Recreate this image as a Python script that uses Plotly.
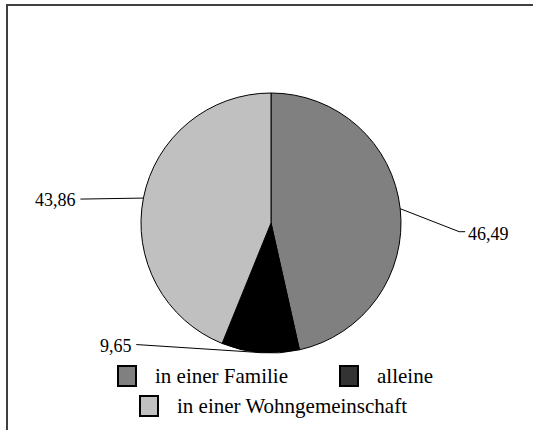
import math
import plotly.graph_objects as go

# Wohnsituation (Anteile in %)
categories = ["in einer Familie", "alleine", "in einer Wohngemeinschaft"]
values = [46.49, 9.65, 43.86]
value_labels = ["46,49", "9,65", "43,86"]
colors = ["#808080", "#000000", "#c0c0c0"]

W, H = 533, 430
FONT = "'Liberation Serif', 'DejaVu Serif', serif"

# pie geometry in pixels
CX, CY, R = 271, 223, 130
# leader line end offsets from the slice edge (px)
label_offsets = [(59, 23), (-124, -8), (-63, 1)]


def px(x):
    return x / W


def py(y):
    return 1 - y / H


fig = go.Figure()
fig.add_trace(go.Pie(
    labels=categories,
    values=values,
    sort=False,
    direction="clockwise",
    rotation=0,
    marker=dict(colors=colors, line=dict(color="#000000", width=1)),
    textinfo="none",
    hoverinfo="label+value",
    showlegend=False,
    domain=dict(x=[px(CX - R), px(CX + R)], y=[py(CY + R), py(CY - R)]),
))

shapes = []
annotations = []

# outside value labels with leader lines
total = sum(values)
cum = 0.0
for v, txt, (dx, dy) in zip(values, value_labels, label_offsets):
    mid = (cum + v / 2) / total * 2 * math.pi
    cum += v
    ex = CX + R * math.sin(mid)
    ey = CY - R * math.cos(mid)
    lx, ly = ex + dx, ey + dy
    shapes.append(dict(type="line", xref="paper", yref="paper",
                       x0=px(ex), y0=py(ey), x1=px(lx), y1=py(ly),
                       line=dict(color="#000000", width=1)))
    if dx > 0:
        shapes.append(dict(type="line", xref="paper", yref="paper",
                           x0=px(lx), y0=py(ly), x1=px(lx + 6), y1=py(ly),
                           line=dict(color="#000000", width=1)))
        annotations.append(dict(x=px(lx + 7), y=py(ly + 2), xref="paper", yref="paper",
                                text=txt, showarrow=False, xanchor="left", yanchor="middle",
                                font=dict(family=FONT, size=18, color="#000000")))
    else:
        annotations.append(dict(x=px(lx - 2), y=py(ly + 1), xref="paper", yref="paper",
                                text=txt, showarrow=False, xanchor="right", yanchor="middle",
                                font=dict(family=FONT, size=18, color="#000000")))

# legend: square + text per category
legend_pos = [(118, 376), (340, 376), (140, 406)]
legend_colors = ["#808080", "#333333", "#c0c0c0"]
for name, col, (lx, ly) in zip(categories, legend_colors, legend_pos):
    shapes.append(dict(type="rect", xref="paper", yref="paper",
                       x0=px(lx), x1=px(lx + 18), y0=py(ly + 10), y1=py(ly - 10),
                       fillcolor=col, line=dict(color="#000000", width=2)))
    annotations.append(dict(x=px(lx + 35), y=py(ly), xref="paper", yref="paper",
                            text=name, showarrow=False, xanchor="left", yanchor="middle",
                            font=dict(family=FONT, size=21, color="#000000")))

# chart frame
shapes.append(dict(type="rect", xref="paper", yref="paper",
                   x0=px(7), y0=py(5), x1=px(W + 40), y1=py(H + 40),
                   line=dict(color="#404040", width=2), fillcolor="rgba(0,0,0,0)"))

fig.update_layout(
    width=W, height=H,
    margin=dict(l=0, r=0, t=0, b=0),
    paper_bgcolor="#ffffff",
    plot_bgcolor="#ffffff",
    font=dict(family=FONT),
    shapes=shapes,
    annotations=annotations,
)

fig.write_html("out.html")
